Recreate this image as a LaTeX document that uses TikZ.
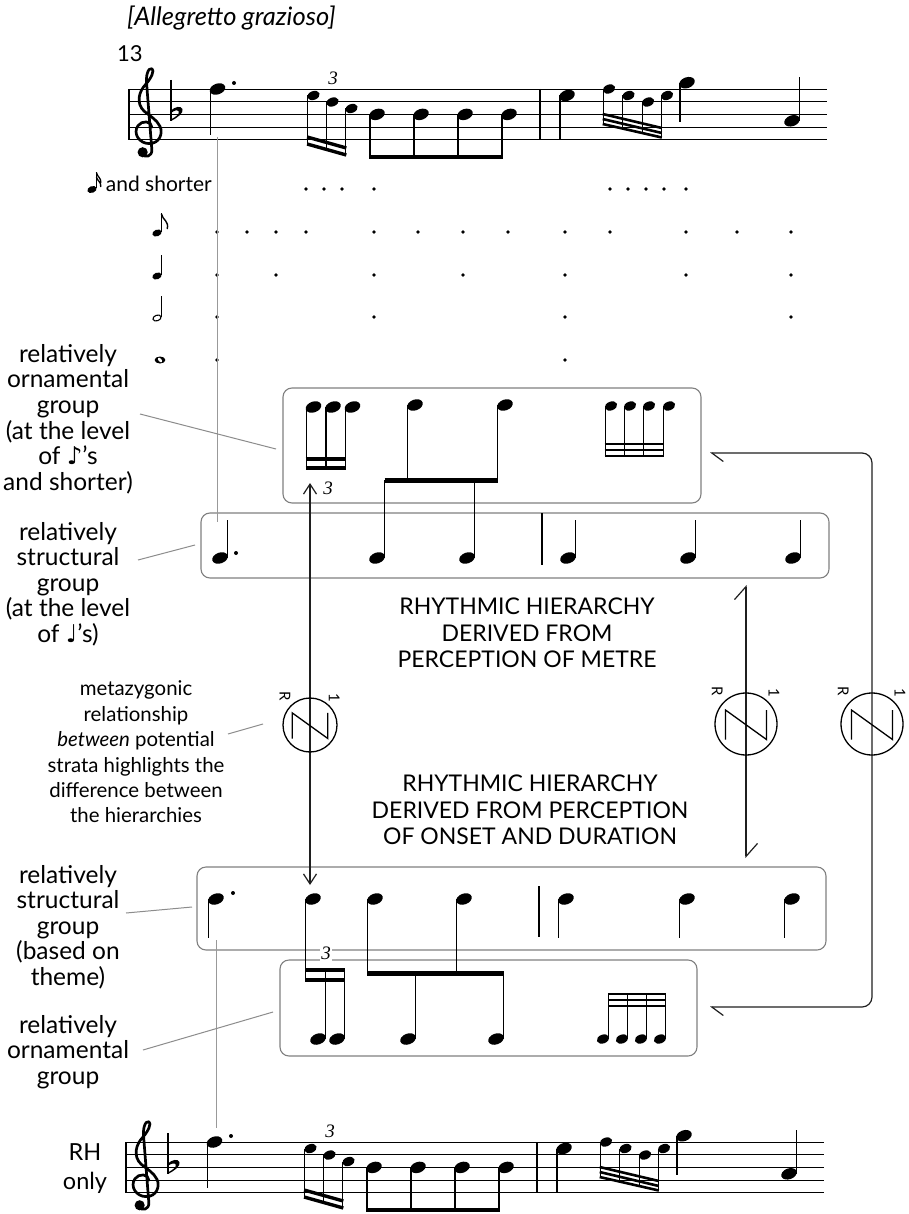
\documentclass[tikz,border=0pt]{standalone}
\usepackage{fontspec}
\setmainfont{Lato}
\newfontfamily\dejavu{DejaVu Sans}
\newfontfamily\tripserif{Liberation Serif}
\usetikzlibrary{arrows.meta}
\definecolor{boxgray}{gray}{0.5}
\definecolor{leadgray}{gray}{0.55}
\definecolor{guidegray}{gray}{0.6}
\definecolor{inkc}{gray}{0.12}

\newcommand\tripfont{\tripserif\itshape\fontsize{19}{19}\selectfont}
% note heads: normal, small, tiny
\newcommand\nhead[2]{\fill[shift={(#1,#2)},rotate=20] (0,0) ellipse [x radius=8, y radius=5.4];}
\newcommand\shead[2]{\fill[shift={(#1,#2)},rotate=20] (0,0) ellipse [x radius=6.4, y radius=4.4];}
\newcommand\thead[2]{\fill[shift={(#1,#2)},rotate=20] (0,0) ellipse [x radius=4.8, y radius=3.3];}
\newcommand\nstem[3]{\draw[notestem] (#1,#2) -- (#1,#3);}
\newcommand\gdot[2]{\fill (#1,#2) circle [radius=1.8];}

% one staff of bars 13-14
\newcommand\staffmusic[1]{%
  \foreach \yy in {89,101.7,114.4,127.1,139.8} {\draw[staffline] (129,\yy) -- (827,\yy);}
  \draw[barl] (129,89) -- (129,139.8);
  % treble clef
  \begin{scope}[shift={(148,89)},x=12.7pt,y=-12.7pt]
    \draw[line width=2.7pt, line cap=round, line join=round]
      (0.3,3.0) .. controls (0.3,2.5) and (-0.5,2.45) .. (-0.8,2.9)
      .. controls (-1.2,3.5) and (-0.7,4.3) .. (0.1,4.3)
      .. controls (0.9,4.3) and (1.2,3.5) .. (0.95,2.95)
      .. controls (0.7,2.4) and (0.1,2.1) .. (-0.3,1.75)
      .. controls (-0.95,1.15) and (-0.75,0.2) .. (-0.15,-0.4)
      .. controls (0.25,-0.85) and (0.55,-1.5) .. (0.3,-1.6)
      .. controls (0.0,-1.7) and (-0.2,-1.0) .. (-0.1,-0.3)
      -- (0.3,4.75)
      .. controls (0.35,5.35) and (-0.25,5.45) .. (-0.5,5.1);
    \fill (-0.42,4.98) circle [radius=0.4];
  \end{scope}
  % key signature: B flat
  \draw[line width=1.3pt] (171,80) -- (171,121);
  \fill (171,121) .. controls (177,118) and (184,113) .. (182.5,109)
    .. controls (181,105.5) and (175,106.5) .. (171,110.5) -- (171,113)
    .. controls (174,110.3) and (178,109.5) .. (178.8,111.5)
    .. controls (179.5,114) and (175.5,117.3) .. (171,119.3) -- cycle;
  % F dotted crotchet
  \nhead{217.5}{89} \nstem{210.3}{89}{135} \fill (234,83) circle [radius=2];
  % triplet semiquavers
  \shead{313.5}{95.5} \shead{332.5}{102} \shead{351.5}{108.5}
  \nstem{307.7}{95.5}{144.2} \nstem{326.7}{102}{149.5} \nstem{345.7}{108.5}{154.9}
  \draw[beamthin] (307.1,137) -- (346.3,148);
  \draw[beamthin] (307.1,144) -- (346.3,155);
  \node[trip] (#1-trip) at (333,78.5) {3};
  % four quavers on B flat
  \foreach \xx in {377,421,465,509} {\nhead{\xx}{114.4} \nstem{\xx-7.1}{114.4}{157}}
  \draw[beamthick] (369.3,157) -- (502.5,157);
  % bar line
  \draw[barl] (540,89) -- (540,139.8);
  % E crotchet
  \nhead{567}{95.5} \nstem{559.9}{95.5}{139.8}
  % demisemiquavers
  \shead{609}{89} \shead{628.5}{95.5} \shead{648}{102} \shead{667}{95.5}
  \nstem{603.2}{89}{124.1} \nstem{622.7}{95.5}{128.6} \nstem{642.2}{102}{133} \nstem{661.2}{95.5}{137.4}
  \draw[beamtiny] (602.7,114) -- (661.8,128);
  \draw[beamtiny] (602.7,119) -- (661.8,133);
  \draw[beamtiny] (602.7,124) -- (661.8,137.5);
  % G crotchet
  \nhead{687}{82.7} \nstem{680}{82.7}{122}
  % A crotchet, stem up
  \nhead{792}{120.8} \nstem{799.3}{120.8}{77}
}

% circled zygonic sign: name, x, y, radius
\newcommand\zygon[4]{%
  \node[draw, circle, zyg, minimum size={2*#4pt}, inner sep=0pt] (#1) at (#2,#3) {};
  \begin{scope}[shift={(#2,#3)}]
    \draw[zyg, line join=miter] (-0.66*#4,0.5*#4) -- (-0.66*#4,-0.45*#4) -- (0.66*#4,0.5*#4) -- (0.66*#4,-0.45*#4);
  \end{scope}
  \node[zlab, rotate=-90] (#1-r) at (#2-0.93*#4, #3-1.06*#4) {R};
  \node[zlab, rotate=-90] (#1-one) at (#2+0.9*#4, #3-1.02*#4) {1};
}

\begin{document}
\begin{tikzpicture}[x=1pt,y=-1pt,
  staffline/.style={line width=0.95pt},
  barl/.style={line width=1.3pt},
  notestem/.style={line width=1.25pt},
  beamthick/.style={line width=4.8pt},
  beamthin/.style={line width=3.4pt},
  beamtiny/.style={line width=2.6pt},
  grpbox/.style={draw=boxgray, line width=1.1pt, rounded corners=9pt, inner sep=0pt},
  guideline/.style={draw=guidegray, line width=1pt},
  leaderline/.style={draw=leadgray, line width=1pt},
  conn/.style={draw=inkc, line width=1.2pt},
  zyg/.style={line width=1.3pt},
  zlab/.style={font=\fontsize{15}{15}\selectfont, inner sep=0pt},
  sidelabel/.style={font=\fontsize{24.5}{25.6}\selectfont, align=center, inner sep=0pt},
  metatext/.style={font=\fontsize{20.4}{25.4}\selectfont, align=center, inner sep=0pt},
  centertext/.style={font=\fontsize{23}{26.5}\selectfont, align=center, inner sep=0pt},
  trip/.style={font=\tripfont, inner sep=0.8pt},
]
\useasboundingbox (0,0) rectangle (909,1214);
\fill[white] (0,0) rectangle (909,1214);

% ---------- headings ----------
\node[anchor=base west, font=\itshape\fontsize{25.5}{25.5}\selectfont, inner sep=0pt] (tempo) at (127,26) {[Allegretto grazioso]};
\node[anchor=base west, font=\fontsize{22}{22}\selectfont, inner sep=0pt] (barno) at (117,62) {13};

% ---------- staves ----------
\staffmusic{top}
\begin{scope}[shift={(-3,1053)}]
  \staffmusic{bot}
\end{scope}
\node[anchor=base, font=\fontsize{23.5}{23.5}\selectfont, inner sep=0pt] (rh) at (85,1160) {RH};
\node[anchor=base, font=\fontsize{23.5}{23.5}\selectfont, inner sep=0pt] (only) at (85,1189) {only};

% ---------- metrical grid ----------
\node[anchor=base east, font=\fontsize{21}{21}\selectfont, inner sep=0pt] (shorter) at (212,192) {and shorter};
% level symbols
\thead{92}{189.5} \draw[line width=1pt] (96.4,188.5) -- (96.4,172);
\draw[line width=1.3pt] (96.4,172.5) .. controls (97.2,177) and (101.7,178) .. (100.7,183);
\draw[line width=1.3pt] (96.4,177) .. controls (97.2,181) and (101.7,182) .. (100.7,187);
\thead{157}{233} \draw[line width=1pt] (161.4,232) -- (161.4,213.5);
\draw[line width=1.4pt] (161.4,214) .. controls (162.7,220) and (169.2,221) .. (167.2,229);
\thead{157}{276} \draw[line width=1pt] (161.4,275) -- (161.4,255.5);
\draw[line width=1.1pt, shift={(157,318)}, rotate=20] (0,0) ellipse [x radius=4.2, y radius=2.8];
\draw[line width=1pt] (161.4,317) -- (161.4,296);
\fill (160,360) ellipse [x radius=5.4, y radius=3.5];
\fill[white, shift={(160,360)}, rotate=-50] (0,0) ellipse [x radius=2.7, y radius=1.5];
% dots
\foreach \xx in {306,324,342,374,610,628,646,664,686} {\gdot{\xx}{189}}
\foreach \xx in {217,247,276,306,374,418,463,508,565,610,686,737,791} {\gdot{\xx}{232}}
\foreach \xx in {217,276,374,463,565,686,791} {\gdot{\xx}{275}}
\foreach \xx in {217,374,565,791} {\gdot{\xx}{317}}
\foreach \xx in {217,565} {\gdot{\xx}{360}}

% ---------- group boxes ----------
\node[grpbox, minimum width=418pt, minimum height=115pt] (ornup) at (492,445.5) {};
\node[grpbox, minimum width=628pt, minimum height=65pt] (strup) at (515,545.5) {};
\node[grpbox, minimum width=629pt, minimum height=83pt] (strlow) at (511.5,908.5) {};
\node[grpbox, minimum width=417pt, minimum height=96pt] (ornlow) at (488.5,1008) {};

% upper ornamental group
\nhead{313.5}{407} \nhead{333}{407} \nhead{352.5}{407}
\nstem{306.3}{407}{469.5} \nstem{326}{407}{469.5} \nstem{345.5}{407}{469.5}
\draw[line width=4pt] (305.7,458.5) -- (346.1,458.5);
\draw[line width=4pt] (305.7,467.5) -- (346.1,467.5);
\node[trip] (tripup) at (328,488) {3};
\nhead{415}{405} \nhead{505}{405}
\nstem{407.8}{405}{480} \nstem{497.8}{405}{480}
\draw[beamthick] (384.5,480.5) -- (498.4,480.5);
\shead{611}{406} \shead{630}{406} \shead{649}{406} \shead{669}{406}
\nstem{605.2}{406}{457} \nstem{624.2}{406}{457} \nstem{643.2}{406}{457} \nstem{663.2}{406}{457}
\draw[beamtiny] (604.7,444) -- (663.8,444);
\draw[beamtiny] (604.7,450) -- (663.8,450);
\draw[beamtiny] (604.7,456) -- (663.8,456);

% upper structural group
\nhead{220}{558} \nstem{227.2}{558}{520} \fill (236,553) circle [radius=2];
\nhead{377}{558} \nstem{384.2}{558}{480}
\nhead{467}{558} \nstem{474.2}{558}{480}
\draw[barl] (542,513) -- (542,565);
\nhead{568}{558} \nstem{575.2}{558}{520}
\nhead{688}{558} \nstem{695.2}{558}{520}
\nhead{793}{558} \nstem{800.2}{558}{520}

% lower structural group
\nhead{216}{899} \nstem{208.8}{899}{938} \fill (233,893) circle [radius=2];
\nhead{313}{899} \nstem{305.8}{899}{981.5}
\nhead{375}{899} \nstem{367.8}{899}{975}
\nhead{464}{899} \nstem{456.8}{899}{975}
\draw[barl] (539,886) -- (539,937);
\nhead{566}{899} \nstem{558.8}{899}{938}
\nhead{687}{899} \nstem{679.8}{899}{938}
\nhead{792}{899} \nstem{784.8}{899}{938}

% lower ornamental group
\draw[line width=4pt] (305.2,969.5) -- (344.6,969.5);
\draw[line width=4pt] (305.2,979.5) -- (344.6,979.5);
\nhead{318}{1039} \nhead{337}{1039}
\nstem{325.2}{1039}{968} \nstem{344.2}{1039}{968}
\draw[beamthick] (367.2,973.5) -- (503.8,973.5);
\nhead{408}{1039} \nhead{496}{1039}
\nstem{415.2}{1039}{973} \nstem{503.2}{1039}{973}
\shead{603}{1039} \shead{622}{1039} \shead{641}{1039} \shead{660}{1039}
\nstem{608.8}{1039}{993} \nstem{627.8}{1039}{993} \nstem{646.8}{1039}{993} \nstem{665.8}{1039}{993}
\draw[beamtiny] (608.2,994) -- (666.4,994);
\draw[beamtiny] (608.2,1000) -- (666.4,1000);
\draw[beamtiny] (608.2,1006) -- (666.4,1006);
\node[trip, fill=white] (triplow) at (326,953.5) {3};

% ---------- guide lines from the staves ----------
\coordinate (gtop) at (217,137);
\coordinate (gtopend) at (217,522);
\coordinate (gbot) at (216,940);
\coordinate (gbotend) at (216,1128);
\draw[guideline] (gtop) -- (gtopend);
\draw[guideline] (gbot) -- (gbotend);

% ---------- side labels ----------
\node[sidelabel] (lblornup) at (68,419) {relatively\\ornamental\\group\\(at the level\\of {\dejavu ♪}’s\\and shorter)};
\node[sidelabel] (lblstrup) at (68,584) {relatively\\structural\\group\\(at the level\\of {\dejavu ♩}’s)};
\node[metatext] (lblmeta) at (136,752) {metazygonic\\relationship\\\textit{between} potential\\strata highlights the\\difference between\\the hierarchies};
\node[sidelabel] (lblstrlow) at (68,927) {relatively\\structural\\group\\(based on\\theme)};
\node[sidelabel] (lblornlow) at (68,1052) {relatively\\ornamental\\group};

\coordinate (la1) at (140,414); \coordinate (la2) at (276,449);
\coordinate (lb1) at (138,560); \coordinate (lb2) at (195,545);
\coordinate (lc1) at (228,734); \coordinate (lc2) at (263,724);
\coordinate (ld1) at (126,913); \coordinate (ld2) at (192,907);
\coordinate (le1) at (143,1050); \coordinate (le2) at (273,1012);
\draw[leaderline] (la1) -- (la2);
\draw[leaderline] (lb1) -- (lb2);
\draw[leaderline] (lc1) -- (lc2);
\draw[leaderline] (ld1) -- (ld2);
\draw[leaderline] (le1) -- (le2);

% ---------- hierarchy captions ----------
\node[centertext] (capmetre) at (527,633) {RHYTHMIC HIERARCHY\\DERIVED FROM\\PERCEPTION OF METRE};
\node[centertext] (caponset) at (530,810) {RHYTHMIC HIERARCHY\\DERIVED FROM PERCEPTION\\OF ONSET AND DURATION};

% ---------- zygonic relationships ----------
\coordinate (zla) at (310,483);
\coordinate (zlb) at (310,885);
\draw[conn, {Straight Barb[length=10pt,width=13pt]}-{Straight Barb[length=10pt,width=13pt]}] (zlb) -- (zla);
\zygon{zleft}{310}{725}{27}

\coordinate (zma) at (746,585);
\coordinate (zmb) at (746,858);
\draw[conn, {Straight Barb[left,length=13pt,width=23pt]}-{Straight Barb[left,length=13pt,width=23pt]}] (zmb) -- (zma);
\zygon{zmid}{746}{724}{31}

\coordinate (zra) at (710,453);
\coordinate (zrb) at (872,453);
\coordinate (zrc) at (872,1007);
\coordinate (zrd) at (710,1007);
\draw[conn, rounded corners=10pt, {Straight Barb[left,length=11.5pt,width=17pt]}-{Straight Barb[left,length=11.5pt,width=17pt]}] (zra) -- (zrb) -- (zrc) -- (zrd);
\zygon{zright}{872}{724}{31}

\end{tikzpicture}
\end{document}
